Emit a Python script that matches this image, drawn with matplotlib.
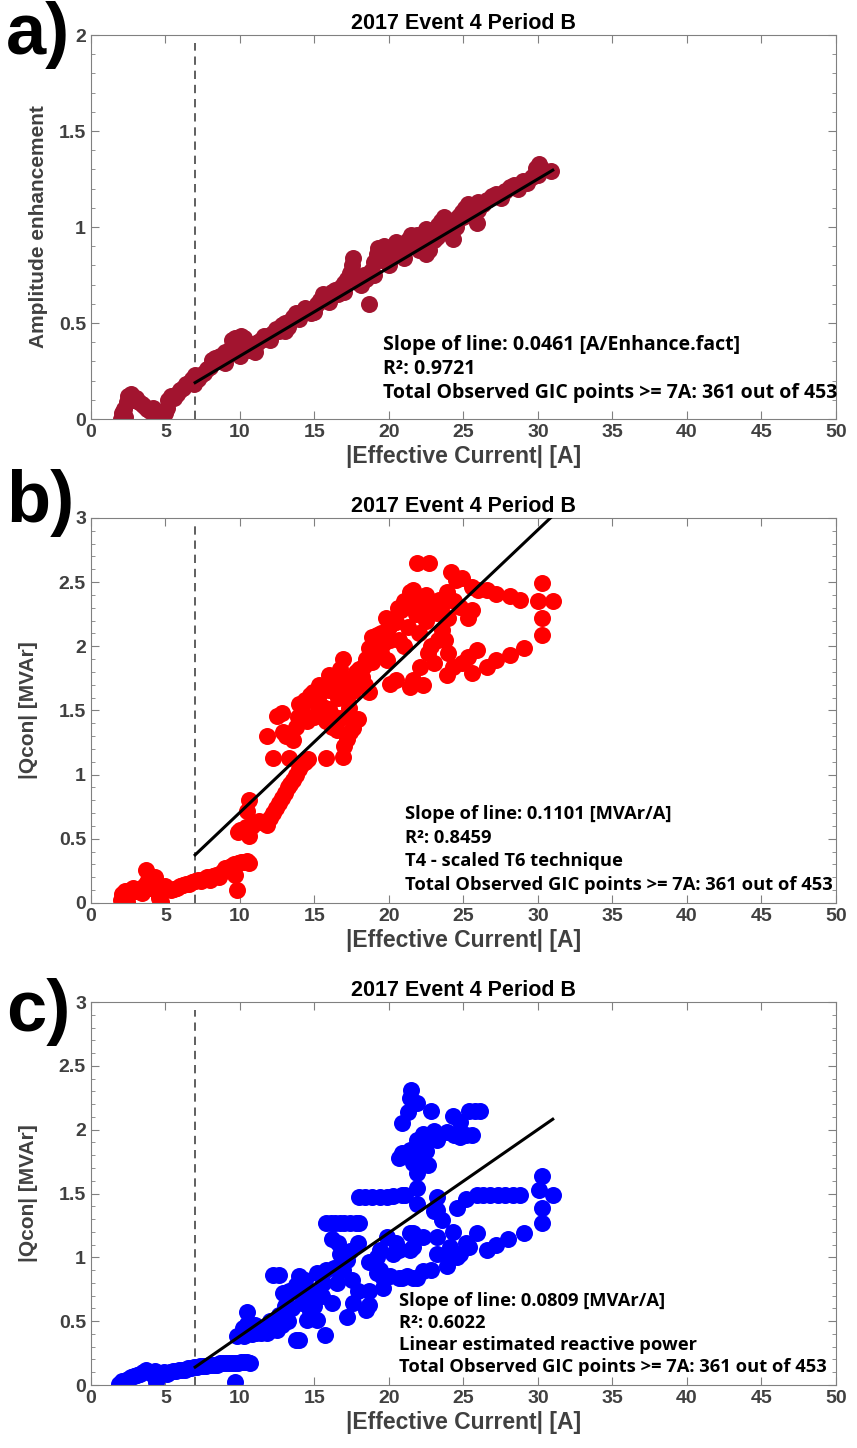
import matplotlib
matplotlib.use('Agg')
import matplotlib.pyplot as plt
from matplotlib.ticker import MultipleLocator

# ---- data ----
xa = [2.0, 2.1, 2.2, 2.3, 2.4, 2.5, 2.6, 2.7, 2.8, 3.0, 3.2, 3.4, 3.6, 3.8, 4.0, 4.2, 4.4, 4.6, 4.8, 5.0,
      5.1, 5.2, 5.4, 5.6, 5.8, 6.0, 6.2, 6.4, 6.6, 6.8, 7.0, 6.9,
      7.2, 7.4, 7.6, 7.8, 8.0, 8.1, 8.3, 8.5, 8.7, 8.9, 9.0, 9.2, 9.4, 9.5, 9.7, 9.9, 10.1, 10.3,
      10.4, 10.6, 10.8, 11.0, 11.2, 11.4, 11.6, 11.8, 12.0, 12.2, 12.4, 12.6, 12.8, 13.0, 13.2, 13.4, 13.6, 13.8, 14.0, 14.2,
      14.4, 14.6, 14.8, 15.0, 15.2, 15.4, 15.6, 15.8, 16.0, 16.2, 16.4, 16.6, 16.8, 17.0, 17.2, 17.4, 17.5, 17.6, 17.7, 17.9,
      18.1, 18.3, 18.5, 18.7, 18.8, 19.0, 19.2, 19.3, 19.5, 19.7, 19.9, 20.1, 20.3, 20.5, 20.7, 20.9, 21.1, 21.3, 21.5, 21.7,
      21.9, 22.1, 22.3, 22.5, 22.7, 22.9, 23.1, 23.3, 23.5, 23.7, 23.9, 24.1, 24.3, 24.5, 24.7, 24.9, 25.1, 25.3, 25.5, 25.7,
      25.9, 26.0, 26.3, 26.6, 26.9, 27.2, 27.5, 27.8, 28.1, 28.4, 28.7, 29.0, 29.3, 29.6, 29.9, 30.1, 30.3, 30.9, 30.0,
      20.0, 21.0, 22.0, 23.0, 24.0, 19.0, 18.0, 17.0, 16.0, 15.0, 14.0, 13.0, 12.0, 11.0, 10.0, 9.0, 21.5, 22.5, 23.5, 20.5,
      19.5, 25.0, 26.0, 24.5, 23.2]
ya = [0.00, 0.03, 0.05, 0.01, 0.09, 0.12, 0.11, 0.13, 0.10, 0.11, 0.09, 0.08, 0.07, 0.05, 0.04, 0.06, 0.03, 0.01, 0.02, 0.03,
      0.06, 0.10, 0.12, 0.11, 0.13, 0.15, 0.16, 0.18, 0.19, 0.21, 0.23, 0.18,
      0.21, 0.23, 0.24, 0.26, 0.27, 0.31, 0.32, 0.30, 0.33, 0.31, 0.35, 0.34, 0.37, 0.41, 0.42, 0.40, 0.43, 0.42,
      0.38, 0.36, 0.39, 0.38, 0.40, 0.41, 0.43, 0.42, 0.44, 0.45, 0.47, 0.46, 0.49, 0.50, 0.48, 0.51, 0.53, 0.55, 0.54, 0.56,
      0.58, 0.57, 0.55, 0.58, 0.60, 0.62, 0.65, 0.64, 0.63, 0.66, 0.67, 0.65, 0.69, 0.71, 0.73, 0.76, 0.80, 0.84, 0.74, 0.72,
      0.70, 0.75, 0.73, 0.60, 0.77, 0.82, 0.86, 0.89, 0.88, 0.90, 0.87, 0.84, 0.85, 0.88, 0.90, 0.87, 0.91, 0.93, 0.90, 0.94,
      0.96, 0.92, 0.90, 0.86, 0.88, 0.97, 0.99, 1.01, 1.03, 1.05, 1.02, 1.00, 0.94, 1.04, 1.06, 1.08, 1.10, 1.12, 1.09, 1.07,
      1.02, 1.13, 1.12, 1.14, 1.16, 1.17, 1.15, 1.19, 1.21, 1.22, 1.20, 1.24, 1.23, 1.26, 1.31, 1.33, 1.30, 1.29, 1.27,
      0.80, 0.84, 0.88, 0.93, 0.97, 0.75, 0.71, 0.66, 0.61, 0.56, 0.52, 0.46, 0.41, 0.35, 0.33, 0.29, 0.96, 0.99, 1.00, 0.92,
      0.83, 1.05, 1.09, 1.00, 0.95]

xb = [2.0, 2.1, 2.2, 2.3, 2.4, 2.5, 2.6, 2.8, 3.0, 3.2, 3.4, 3.6, 3.7, 3.8, 4.0, 4.1, 4.3, 4.4, 4.5, 4.6,
      4.7, 4.8, 5.0, 5.2, 5.4, 5.6, 5.8, 6.0, 6.2, 6.4, 6.6, 6.8, 7.0, 7.2, 7.4, 7.6, 7.8, 8.0, 8.2, 8.4,
      8.6, 8.8, 9.0, 9.2, 9.4, 9.6, 9.8, 9.7, 9.9, 10.1, 10.3, 10.5, 10.6,
      9.9, 10.0, 10.2, 10.4, 10.6, 10.5, 10.6, 10.8, 11.0, 11.3, 11.6, 11.8, 12.0, 12.2, 12.4, 12.6, 12.8, 13.0, 13.2, 13.4,
      13.6, 13.8, 14.0, 14.2, 14.4, 14.6, 12.2, 13.3, 15.8, 16.9, 17.0, 17.2, 11.8, 12.5, 12.8, 13.1, 13.6, 13.8, 14.2, 14.0,
      14.4, 14.7, 14.9, 15.2, 15.5, 15.6, 16.0, 16.2, 16.4, 16.6, 16.8, 16.7, 17.0, 17.2, 17.4, 17.6, 17.9, 18.0, 18.2, 18.4,
      18.7, 18.7, 18.9, 18.9, 19.2, 19.5, 19.9, 20.1, 20.1, 20.3, 20.5, 20.5, 20.8, 21.0, 21.2, 21.4, 21.6, 21.6, 21.9, 22.7,
      21.8, 22.0, 22.1, 22.3, 22.3, 22.5, 22.8, 23.0, 23.2, 23.4, 23.6, 23.9, 24.2, 24.5, 24.8, 24.9, 25.3, 25.6, 25.6, 26.0,
      26.6, 27.2, 28.1, 28.8, 30.3, 30.0, 31.0, 30.3, 30.3, 29.1, 28.1, 27.2, 26.6, 25.9, 25.3, 24.9, 24.3, 23.9, 25.6,
      19.5, 20.0, 20.7, 21.0, 21.3, 21.7, 22.0, 22.5, 23.0, 23.5, 24.0, 24.4, 19.8, 20.6, 21.4, 22.2, 23.8, 24.0, 23.3, 22.6,
      15.0, 15.3, 16.0, 16.3, 17.5, 17.8, 18.3, 18.5, 19.0, 19.6, 17.0, 16.5, 17.3, 15.8, 14.5, 13.9, 12.9, 15.3, 16.0, 16.9,
      17.6]
yb = [0.02, 0.07, 0.04, 0.09, 0.01, 0.06, 0.10, 0.12, 0.09, 0.11, 0.08, 0.13, 0.26, 0.16, 0.12, 0.18, 0.20, 0.14, 0.08, 0.04,
      0.01, 0.10, 0.13, 0.11, 0.10, 0.11, 0.12, 0.13, 0.14, 0.15, 0.15, 0.16, 0.17, 0.18, 0.17, 0.19, 0.20, 0.18, 0.21, 0.22,
      0.20, 0.24, 0.27, 0.26, 0.29, 0.30, 0.10, 0.22, 0.31, 0.32, 0.32, 0.33, 0.31,
      0.55, 0.57, 0.56, 0.59, 0.52, 0.72, 0.80, 0.60, 0.62, 0.64, 0.62, 0.61, 0.66, 0.70, 0.74, 0.78, 0.82, 0.86, 0.90, 0.93,
      0.96, 1.00, 1.04, 1.08, 1.10, 1.12, 1.13, 1.13, 1.13, 1.14, 1.22, 1.28, 1.30, 1.46, 1.48, 1.30, 1.27, 1.37, 1.50, 1.55,
      1.58, 1.62, 1.64, 1.55, 1.50, 1.53, 1.51, 1.37, 1.45, 1.60, 1.68, 1.82, 1.72, 1.58, 1.33, 1.36, 1.43, 1.82, 1.76, 1.70,
      1.64, 1.99, 2.07, 1.88, 2.09, 1.95, 1.89, 1.71, 2.05, 2.18, 2.19, 1.74, 2.28, 2.35, 2.34, 1.68, 1.74, 2.44, 2.65, 2.65,
      2.25, 2.10, 1.84, 1.70, 2.31, 2.40, 2.00, 1.87, 2.26, 2.36, 2.13, 2.42, 2.58, 2.52, 2.31, 2.53, 2.22, 2.28, 2.46, 2.44,
      2.44, 2.41, 2.39, 2.36, 2.49, 2.35, 2.35, 2.22, 2.09, 1.99, 1.93, 1.89, 1.84, 1.97, 1.92, 1.87, 1.84, 1.78, 1.79,
      2.10, 2.15, 2.05, 2.00, 2.15, 2.30, 2.35, 2.20, 2.33, 2.30, 2.22, 2.35, 2.22, 2.30, 2.42, 2.37, 2.05, 1.95, 2.05, 1.95,
      1.45, 1.62, 1.66, 1.72, 1.75, 1.80, 1.85, 1.90, 1.97, 2.02, 1.45, 1.35, 1.52, 1.42, 1.42, 1.45, 1.33, 1.70, 1.78, 1.90,
      1.65]

xc = [1.9, 2.1, 2.3, 2.5, 2.7, 2.9, 3.1, 3.3, 3.5, 3.7, 3.9, 4.1, 4.3, 4.5, 4.4, 4.7, 4.9, 5.1, 5.3, 5.5,
      5.7, 5.9, 6.1, 6.3, 6.5, 6.7, 6.9, 7.1, 7.3, 7.5, 7.7, 7.9, 8.1, 8.3, 8.5, 8.7, 8.9, 9.1, 9.3, 9.5,
      9.7, 9.7, 9.9, 10.1, 10.3, 10.5, 10.7,
      9.8, 10.1, 10.3, 10.5, 10.5, 10.8, 11.1, 11.4, 11.8, 12.1, 12.5, 12.2, 12.6, 12.9, 13.3, 13.0, 12.8, 13.5, 13.8, 14.0,
      14.0, 14.4, 14.2, 14.5, 14.7, 14.9, 15.2, 15.2, 15.5, 15.7, 15.8, 15.8, 16.1, 16.4, 16.7, 17.0, 17.4, 17.8, 16.2, 16.7,
      17.2, 16.2, 16.5, 16.9, 17.2, 17.6, 17.5, 17.9, 18.5, 18.7, 18.7, 18.7, 17.9, 17.4, 18.0, 18.4, 18.9, 19.4, 19.9, 20.3,
      18.0, 19.2, 19.2, 19.4, 19.4, 19.6, 19.6, 19.9, 20.1, 20.3, 20.7, 20.7, 20.5, 20.9, 20.9, 21.1, 21.2, 21.4, 21.4, 21.6,
      21.6, 21.9, 21.9, 21.9, 21.6, 22.3, 22.3, 22.8, 23.2, 23.2, 23.2, 23.2, 23.0, 23.6, 23.9, 24.1, 24.2, 24.3, 24.6, 24.6,
      24.8, 25.2, 25.2, 25.4, 25.9, 25.9, 26.3, 26.6, 26.8, 27.2, 27.3, 27.8, 28.0, 28.3, 28.8, 29.1, 30.3, 30.1, 31.0, 30.3,
      30.3,
      21.5, 21.4, 21.9, 22.8, 21.3, 20.9, 24.3, 24.8, 25.4, 25.8, 26.1, 23.9, 24.4, 24.8, 25.2, 25.6, 23.4, 22.3, 22.7, 21.9,
      22.2, 21.4, 20.7, 20.9, 22.5, 21.6, 22.6, 21.9, 21.2, 22.0, 23.0, 23.2,
      16.6, 17.2, 13.2, 13.8, 14.3, 15.0, 15.6, 16.3, 11.5, 12.0, 12.6, 13.0, 11.0, 10.2]
yc = [0.01, 0.03, 0.00, 0.05, 0.06, 0.07, 0.08, 0.09, 0.10, 0.12, 0.10, 0.09, 0.11, 0.08, 0.02, 0.09, 0.10, 0.09, 0.10, 0.11,
      0.11, 0.12, 0.12, 0.12, 0.13, 0.13, 0.14, 0.14, 0.15, 0.15, 0.15, 0.16, 0.16, 0.16, 0.16, 0.17, 0.17, 0.17, 0.17, 0.17,
      0.02, 0.17, 0.17, 0.18, 0.18, 0.18, 0.17,
      0.38, 0.40, 0.38, 0.48, 0.57, 0.40, 0.41, 0.41, 0.41, 0.43, 0.43, 0.86, 0.86, 0.72, 0.74, 0.55, 0.47, 0.60, 0.35, 0.35,
      0.85, 0.82, 0.64, 0.51, 0.58, 0.72, 0.88, 0.51, 0.70, 0.39, 0.90, 1.27, 1.27, 1.27, 1.27, 1.27, 1.27, 1.27, 1.14, 1.03,
      0.98, 0.64, 0.80, 0.90, 0.53, 0.64, 0.82, 0.74, 0.59, 0.63, 0.74, 0.96, 1.11, 1.05, 1.47, 1.47, 1.47, 1.47, 1.47, 1.48,
      1.27, 0.88, 1.00, 0.90, 1.06, 0.84, 0.76, 1.16, 0.85, 1.03, 0.84, 1.06, 1.11, 0.84, 1.49, 1.49, 0.85, 1.06, 1.19, 1.19,
      1.08, 0.84, 1.42, 1.54, 0.84, 0.89, 1.16, 0.90, 1.03, 1.16, 1.37, 1.47, 1.36, 1.29, 0.93, 1.08, 1.02, 1.20, 1.00, 1.39,
      1.03, 1.11, 1.46, 1.08, 1.19, 1.49, 1.49, 1.06, 1.49, 1.10, 1.49, 1.49, 1.14, 1.49, 1.49, 1.19, 1.64, 1.53, 1.49, 1.39,
      1.27,
      2.31, 2.25, 2.21, 2.15, 2.14, 2.05, 2.11, 2.06, 2.15, 2.15, 2.15, 1.98, 1.96, 1.94, 1.96, 1.96, 1.96, 1.97, 1.95, 1.92,
      1.88, 1.84, 1.78, 1.82, 1.83, 1.74, 1.72, 1.66, 1.80, 1.80, 1.99, 1.92,
      1.11, 1.04, 0.50, 0.78, 0.70, 0.62, 0.80, 0.92, 0.45, 0.50, 0.55, 0.62, 0.47, 0.45]

panel_labels = ['a)', 'b)', 'c)']
ylabels = ['Amplitude enhancement', '|Qcon| [MVAr]', '|Qcon| [MVAr]']
colors = ['#A2142F', '#FF0000', '#0000FF']
ymaxes = [2, 3, 3]
slopes = [0.0461, 0.1101, 0.0809]
intercepts = [-0.133, -0.396, -0.426]
notes = [['Slope of line: 0.0461 [A/Enhance.fact]', 'R²: 0.9721',
          'Total Observed GIC points >= 7A: 361 out of 453'],
         ['Slope of line: 0.1101 [MVAr/A]', 'R²: 0.8459', 'T4 - scaled T6 technique',
          'Total Observed GIC points >= 7A: 361 out of 453'],
         ['Slope of line: 0.0809 [MVAr/A]', 'R²: 0.6022', 'Linear estimated reactive power',
          'Total Observed GIC points >= 7A: 361 out of 453']]
note_x = [19.6, 21.1, 20.7]
note_y = [[0.385, 0.26, 0.135], [0.694, 0.507, 0.327, 0.14], [0.658, 0.486, 0.313, 0.141]]
note_size = [14, 13.2, 13.2]
ylabpad = [8, 15, 15]
label_y = [1.0, 1.04, 0.975]
xs = [xa, xb, xc]
ys = [ya, yb, yc]

fig = plt.figure(figsize=(8.57, 14.48), dpi=100)
boxes = [[0.106, 0.7106, 0.8693, 0.2652],
         [0.106, 0.3764, 0.8693, 0.2659],
         [0.106, 0.0435, 0.8693, 0.2645]]
grey = '#808080'
tickc = '#404040'
sans = ['Liberation Sans', 'DejaVu Sans']

for i in range(3):
    ax = fig.add_axes(boxes[i])
    ax.scatter(xs[i], ys[i], s=150, color=colors[i], linewidths=0, zorder=2)
    xf = [7, 31]
    yf = [slopes[i] * v + intercepts[i] for v in xf]
    ax.plot(xf, yf, color='black', lw=2.2, zorder=3)
    ax.plot([7, 7], [0, ymaxes[i] * 0.98], color='#444444', lw=1.2, ls=(0, (5, 3.5)), zorder=1)
    ax.set_xlim(0, 50)
    ax.set_ylim(0, ymaxes[i])
    ax.xaxis.set_major_locator(MultipleLocator(5))
    ax.yaxis.set_minor_locator(MultipleLocator(0.1))
    ax.tick_params(which='both', direction='in', top=True, right=True, color=grey)
    ax.tick_params(which='major', length=6, labelsize=14, labelcolor=tickc)
    ax.tick_params(which='minor', length=3)
    nt = int(ymaxes[i] * 2) + 1
    ax.set_yticks([v * 0.5 for v in range(nt)])
    ax.set_yticklabels(['%g' % (v * 0.5) for v in range(nt)])
    for lab in ax.get_xticklabels() + ax.get_yticklabels():
        lab.set_fontweight('bold')
        lab.set_family(sans)
    for sp in ax.spines.values():
        sp.set_color(grey)
    ax.set_xlabel('|Effective Current| [A]', fontsize=16.5, fontweight='bold', color=tickc,
                  family=sans, labelpad=3)
    ax.set_ylabel(ylabels[i], fontsize=15, fontweight='bold', color=tickc,
                  family=sans, labelpad=ylabpad[i])
    ax.set_title('2017 Event 4 Period B', fontsize=15.5, fontweight='bold', color='black',
                 family=['Liberation Sans Narrow', 'Liberation Sans', 'DejaVu Sans'], pad=4)
    for j in range(len(notes[i])):
        ax.text(note_x[i], note_y[i][j], notes[i][j], fontsize=note_size[i], fontweight='bold',
                family=['Open Sans', 'DejaVu Sans'], va='center', ha='left', zorder=4)
    ax.text(-0.114, label_y[i], panel_labels[i], transform=ax.transAxes, fontsize=52,
            fontweight='bold', family=sans, va='center', ha='left')

fig.savefig('out.png', dpi=100)
